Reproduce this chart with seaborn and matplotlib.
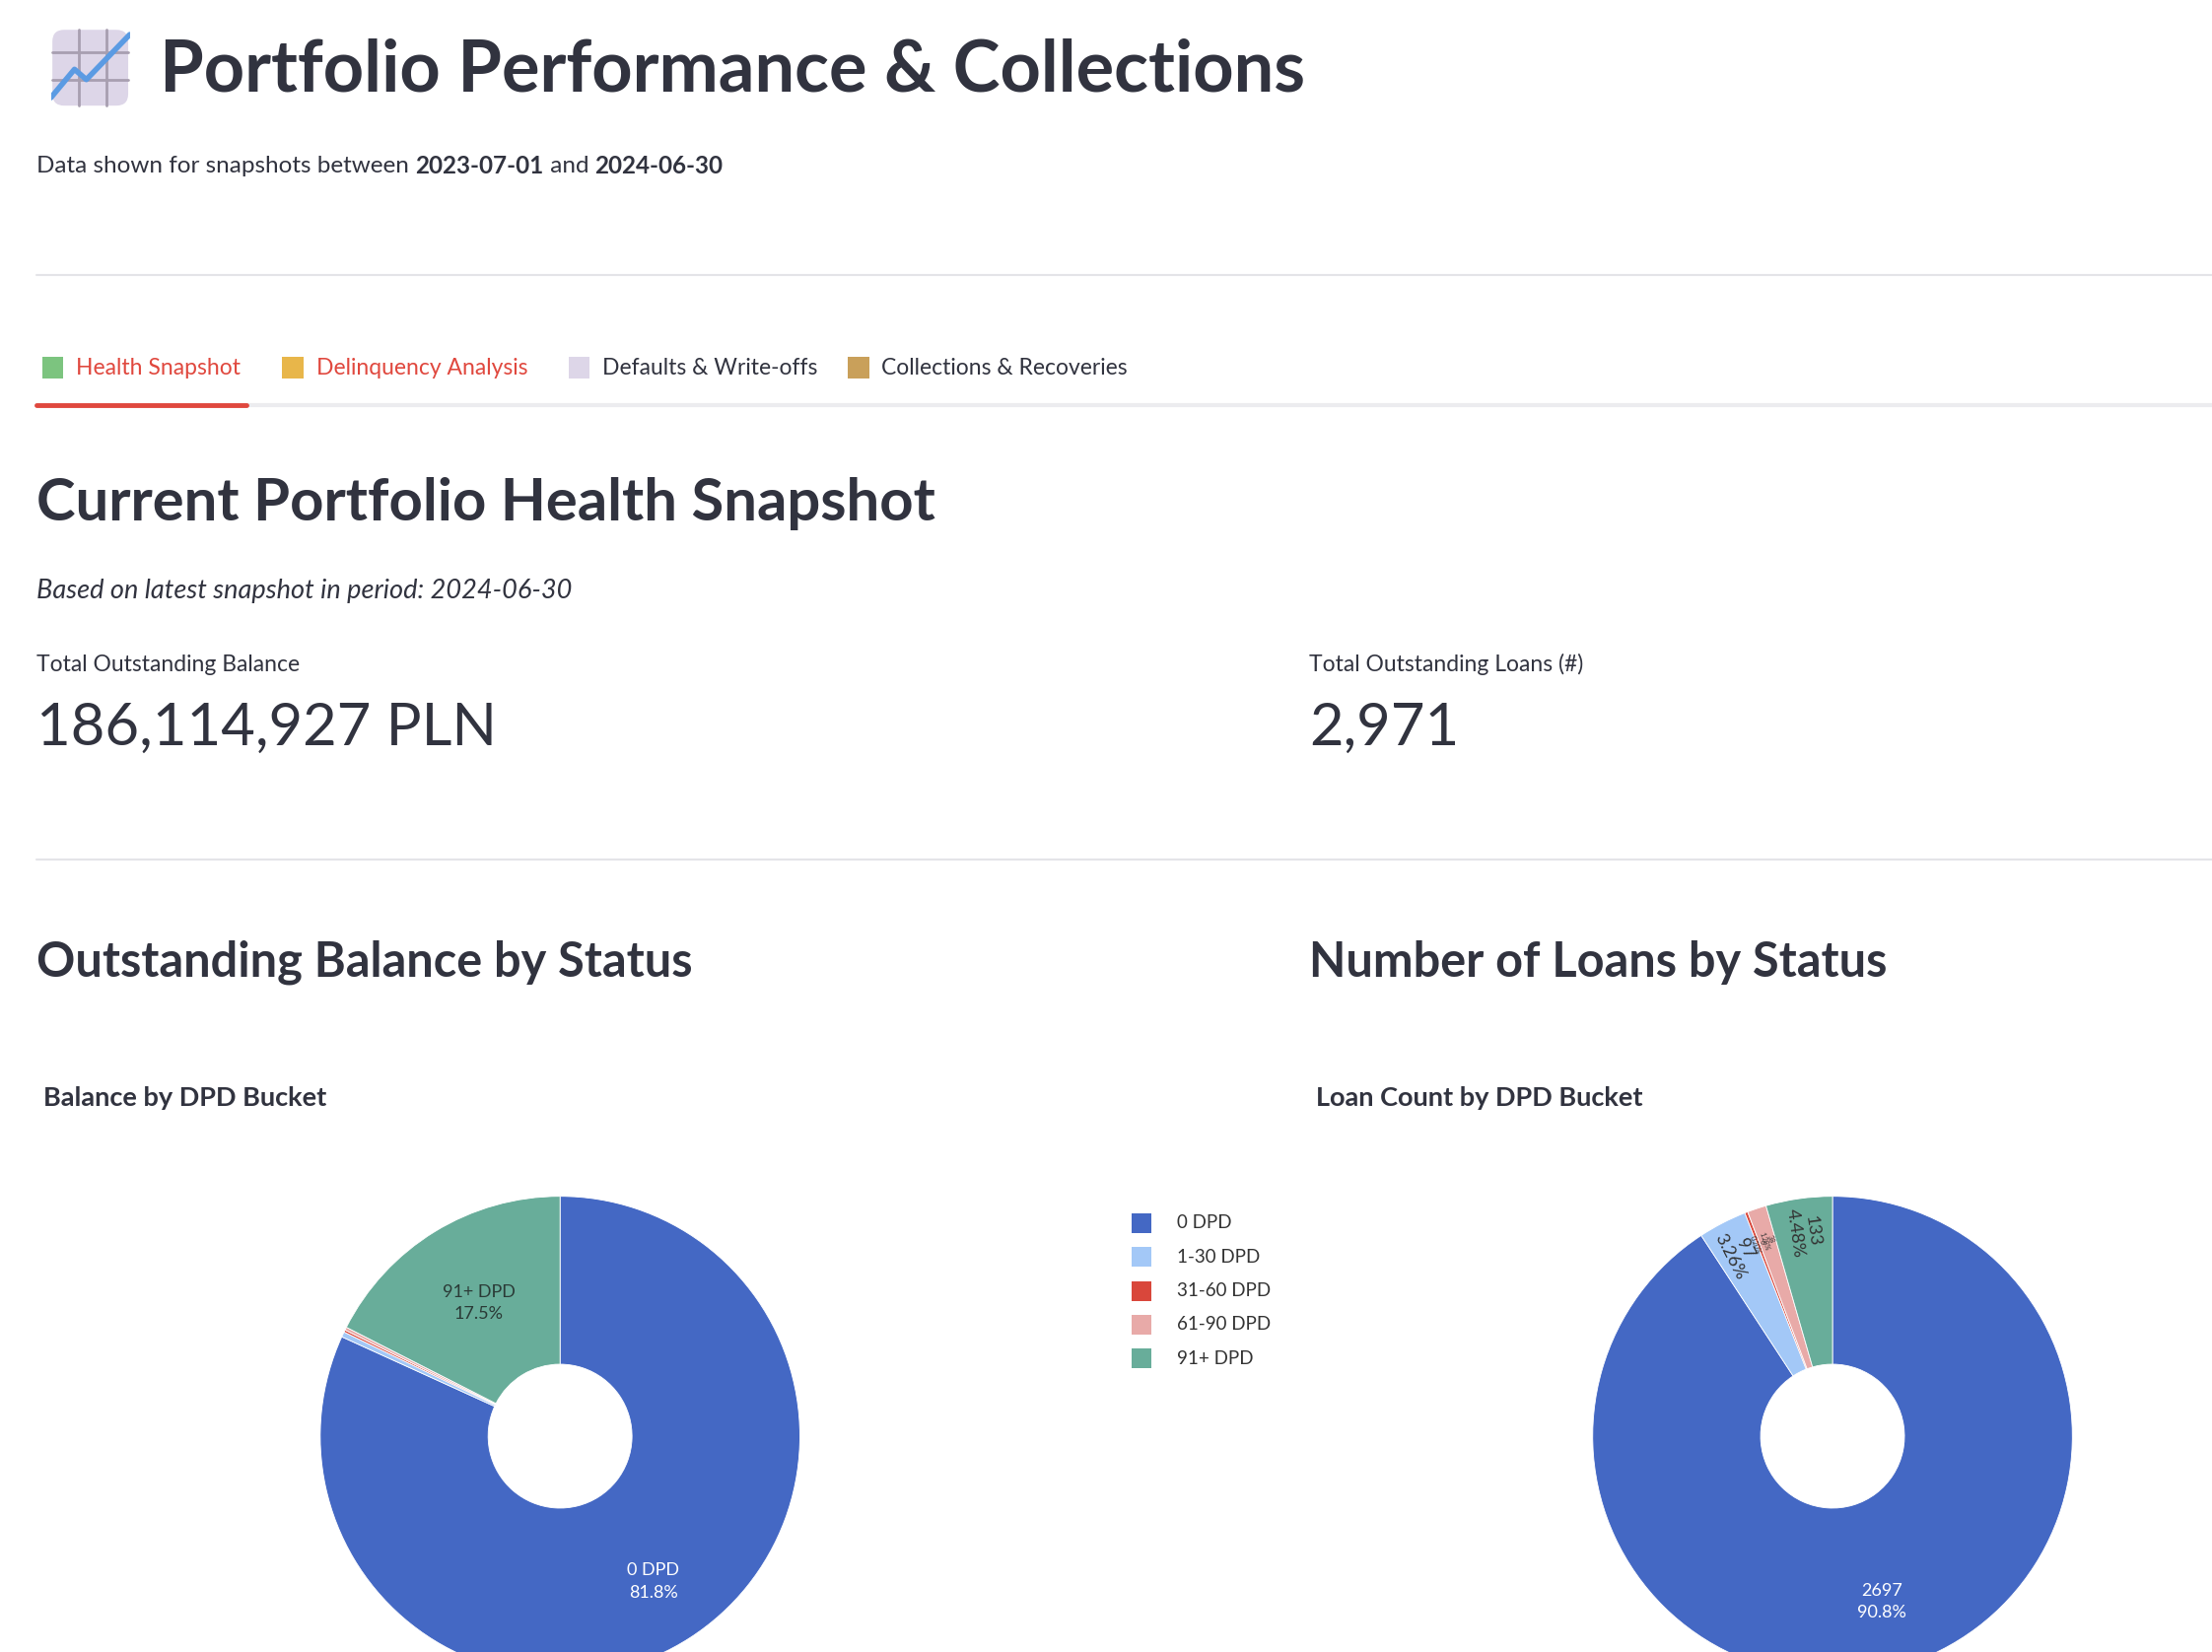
import matplotlib
matplotlib.use("Agg")
import matplotlib.pyplot as plt
import seaborn as sns
from matplotlib.patches import Rectangle, FancyBboxPatch
import numpy as np

# ---- data ----
buckets = ["0 DPD", "1-30 DPD", "31-60 DPD", "61-90 DPD", "91+ DPD"]
balance_pln = [152242010, 651402, 279172, 372231, 32570112]
loan_counts = [2697, 97, 6, 38, 133]
bucket_colors = ["#4468c4", "#a3c8f7", "#d9473b", "#e8aaa8", "#68ad9a"]
tab_labels = ["Health Snapshot", "Delinquency Analysis", "Defaults & Write-offs", "Collections & Recoveries"]
period_start, period_end = "2023-07-01", "2024-06-30"

sns.set_theme(style="white", font="Lato")
palette = sns.color_palette(bucket_colors)

W, H = 1568, 1171          # layout units (reference display space)
fig = plt.figure(figsize=(22.44, 16.76), dpi=100)
fig.patch.set_facecolor("white")
INK = "#31333f"


def fx(x):
    return x / W


def fy(y):
    return 1 - y / H


def txt(x, y, s, size, **kw):
    kw.setdefault("color", INK)
    kw.setdefault("va", "center")
    fig.text(fx(x), fy(y), s, fontsize=size, **kw)


def hline(x0, x1, y, color="#e4e4e8", lw=1.5):
    fig.add_artist(plt.Line2D([fx(x0), fx(x1)], [fy(y), fy(y)], color=color, lw=lw))


# header icon (chart emoji)
ic = fig.add_axes([fx(36), fy(76), fx(56), 56 / H])
ic.set_xlim(0, 1); ic.set_ylim(0, 1); ic.axis("off")
ic.add_patch(FancyBboxPatch((0.02, 0.02), 0.96, 0.96, boxstyle="round,pad=0,rounding_size=0.15",
                            fc="#ddd6e8", ec="none"))
for v in (0.35, 0.7):
    ic.plot([v, v], [0.02, 0.98], color="#a89fb0", lw=2)
    ic.plot([0.02, 0.98], [v, v], color="#a89fb0", lw=2)
ic.plot([0.0, 0.3, 0.45, 1.0], [0.12, 0.48, 0.35, 0.92], color="#5b9be3", lw=4)

txt(113, 50, "Portfolio Performance & Collections", 52, fontweight="bold")
fig.text(fx(26), fy(118), "Data shown for snapshots between ", fontsize=17.5, color=INK, va="center")
txt(26, 118, "", 17.5)
# compose subtitle pieces with bold dates
r = fig.canvas.get_renderer()
x = 26
for piece, bold in [("Data shown for snapshots between ", False), (period_start, True),
                    (" and ", False), (period_end, True)]:
    t = fig.text(fx(x), fy(118), piece, fontsize=17.5, color=INK if bold else "#31333f", va="center",
                 fontweight="bold" if bold else "normal", alpha=1 if (bold or x > 26) else 0)
    x += t.get_window_extent(r).width / 2244 * W

hline(26, 1568, 195)

# tabs
tab_x = [30, 200, 403, 601]
tab_col = ["#e0483e", "#e0483e", INK, INK]
icon_col = ["#7cc47f", "#e8b64a", "#ddd6e8", "#c9a05a"]
for tx, lab, c, icc in zip(tab_x, tab_labels, tab_col, icon_col):
    fig.add_artist(Rectangle((fx(tx), fy(268)), fx(15), 15 / H, fc=icc, ec="none"))
    txt(tx + 24, 261, lab, 16.5, color=c)
hline(26, 1568, 287, color="#ececef", lw=3)
hline(26, 175, 287, color="#e0483e", lw=3.5)

txt(26, 357, "Current Portfolio Health Snapshot", 43, fontweight="bold")
txt(26, 419, f"Based on latest snapshot in period: {period_end}", 19.5, style="italic")

total_balance = sum(balance_pln)
total_loans = sum(loan_counts)
txt(26, 471, "Total Outstanding Balance", 16.5)
txt(26, 516, f"{total_balance:,} PLN", 43)
txt(928, 471, "Total Outstanding Loans (#)", 16.5)
txt(928, 516, f"{total_loans:,}", 43)

hline(26, 1568, 609)

txt(26, 682, "Outstanding Balance by Status", 35, fontweight="bold")
txt(928, 682, "Number of Loans by Status", 35, fontweight="bold")
txt(31, 778, "Balance by DPD Bucket", 19.5, fontweight="bold")
txt(933, 778, "Loan Count by DPD Bucket", 19.5, fontweight="bold")


def donut(cx, cy, rad, values):
    ax = fig.add_axes([fx(cx - rad), fy(cy + rad), fx(2 * rad), 2 * rad / H])
    wedges, _ = ax.pie(values, colors=palette, startangle=90, counterclock=False,
                       wedgeprops=dict(width=0.7, edgecolor="white", linewidth=0.6))
    ax.set_xlim(-1, 1); ax.set_ylim(-1, 1); ax.set_aspect("auto")
    return ax, wedges


# left donut: balance
axl, wl = donut(397, 1018, 170, balance_pln)
for i in (0, 4):
    w = wl[i]
    ang = np.deg2rad((w.theta1 + w.theta2) / 2)
    pct = balance_pln[i] / total_balance * 100
    col = "white" if i == 0 else "#2a3a36"
    rr = 0.72 if i == 0 else 0.65
    axl.text(rr * np.cos(ang), rr * np.sin(ang), f"{buckets[i]}\n{pct:.1f}%", ha="center", va="center",
             fontsize=13, color=col, linespacing=1.5)

# right donut: counts
axr, wr = donut(1299, 1018, 170, loan_counts)
for i, w in enumerate(wr):
    ang_d = (w.theta1 + w.theta2) / 2
    ang = np.deg2rad(ang_d)
    pct = loan_counts[i] / total_loans * 100
    if i == 0:
        axr.text(0.72 * np.cos(ang), 0.72 * np.sin(ang), f"{loan_counts[i]}\n{pct:.1f}%", ha="center",
                 va="center", fontsize=13, color="white", linespacing=1.5)
    else:
        size = 13 if loan_counts[i] > 60 else 5
        pstr = f"{pct:.2f}%" if pct < 10 else f"{pct:.1f}%"
        axr.text(0.86 * np.cos(ang), 0.86 * np.sin(ang), f"{loan_counts[i]}\n{pstr}", ha="center",
                 va="center", fontsize=size, color="#333333", rotation=ang_d - 180,
                 rotation_mode="anchor", linespacing=1.1)

# legend
for k, (lab, c) in enumerate(zip(buckets, palette)):
    y = 867 + 24 * k
    fig.add_artist(Rectangle((fx(802), fy(y + 7)), fx(14), 14 / H, fc=c, ec="none"))
    txt(834, y, lab, 13.5, color="#333333")

fig.savefig("out.png", dpi=100, facecolor="white")
